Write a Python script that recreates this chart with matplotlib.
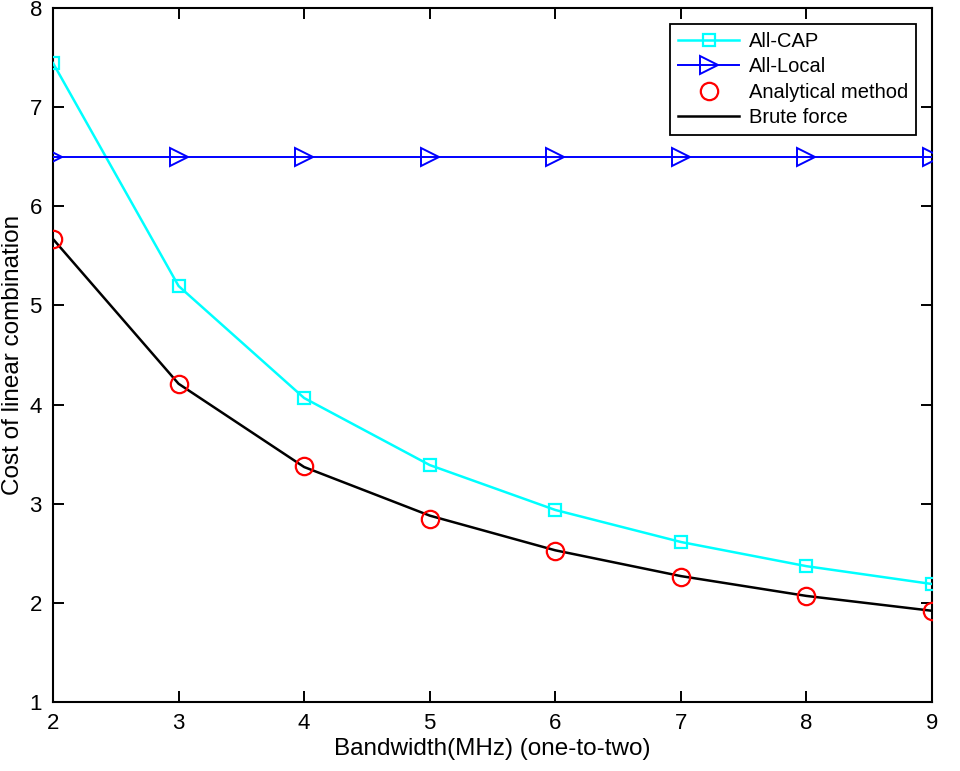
import matplotlib
matplotlib.use("Agg")
import matplotlib.pyplot as plt

plt.rcParams['font.family'] = ['Liberation Sans', 'DejaVu Sans']

bandwidth = [2, 3, 4, 5, 6, 7, 8, 9]
all_cap = [7.445, 5.196, 4.066, 3.39, 2.937, 2.614, 2.37, 2.19]
all_local = [6.5, 6.5, 6.5, 6.5, 6.5, 6.5, 6.5, 6.5]
analytical = [5.67, 4.21, 3.38, 2.846, 2.523, 2.26, 2.07, 1.92]
brute = [5.67, 4.21, 3.37, 2.88, 2.53, 2.27, 2.07, 1.92]

fig = plt.figure(figsize=(9.6, 7.71), dpi=100)
ax = fig.add_axes([53/960, 69/771, 879/960, 694/771])

ax.plot(bandwidth, all_cap, color='#00FFFF', marker='s', markersize=9,
        markerfacecolor='none', markeredgewidth=1.6, linewidth=1.8, label='All-CAP', zorder=3)
ax.plot(bandwidth, all_local, color='#0000FF', marker='>', markersize=12.5,
        markerfacecolor='none', markeredgewidth=1.4, linewidth=1.4, label='All-Local', zorder=3)
ax.plot(bandwidth, analytical, color='#FF0000', marker='o', markersize=12.5,
        markerfacecolor='none', markeredgewidth=1.6, linestyle='none', label='Analytical method', zorder=4)
ax.plot(bandwidth, brute, color='black', linewidth=1.8, label='Brute force', zorder=3)

ax.set_xlim(2, 9)
ax.set_ylim(1, 8)
ax.set_xticks(range(2, 10))
ax.set_yticks(range(1, 9))
ax.tick_params(direction='in', top=True, right=True, labelsize=16, length=8, width=1.4, pad=8)
for s in ax.spines.values():
    s.set_linewidth(1.5)

ax.set_xlabel('Bandwidth(MHz) (one-to-two)', fontsize=17.5, labelpad=3)
ax.set_ylabel('Cost of linear combination', fontsize=17.5, labelpad=4)

leg = ax.legend(loc='upper right', bbox_to_anchor=(0.982, 0.977), fontsize=14.5, fancybox=False,
                framealpha=1, edgecolor='black', handlelength=3.0, borderpad=0.4,
                labelspacing=0.32, handletextpad=0.5, borderaxespad=0)
leg.get_frame().set_linewidth(1.3)

fig.savefig('out.png', dpi=100)
